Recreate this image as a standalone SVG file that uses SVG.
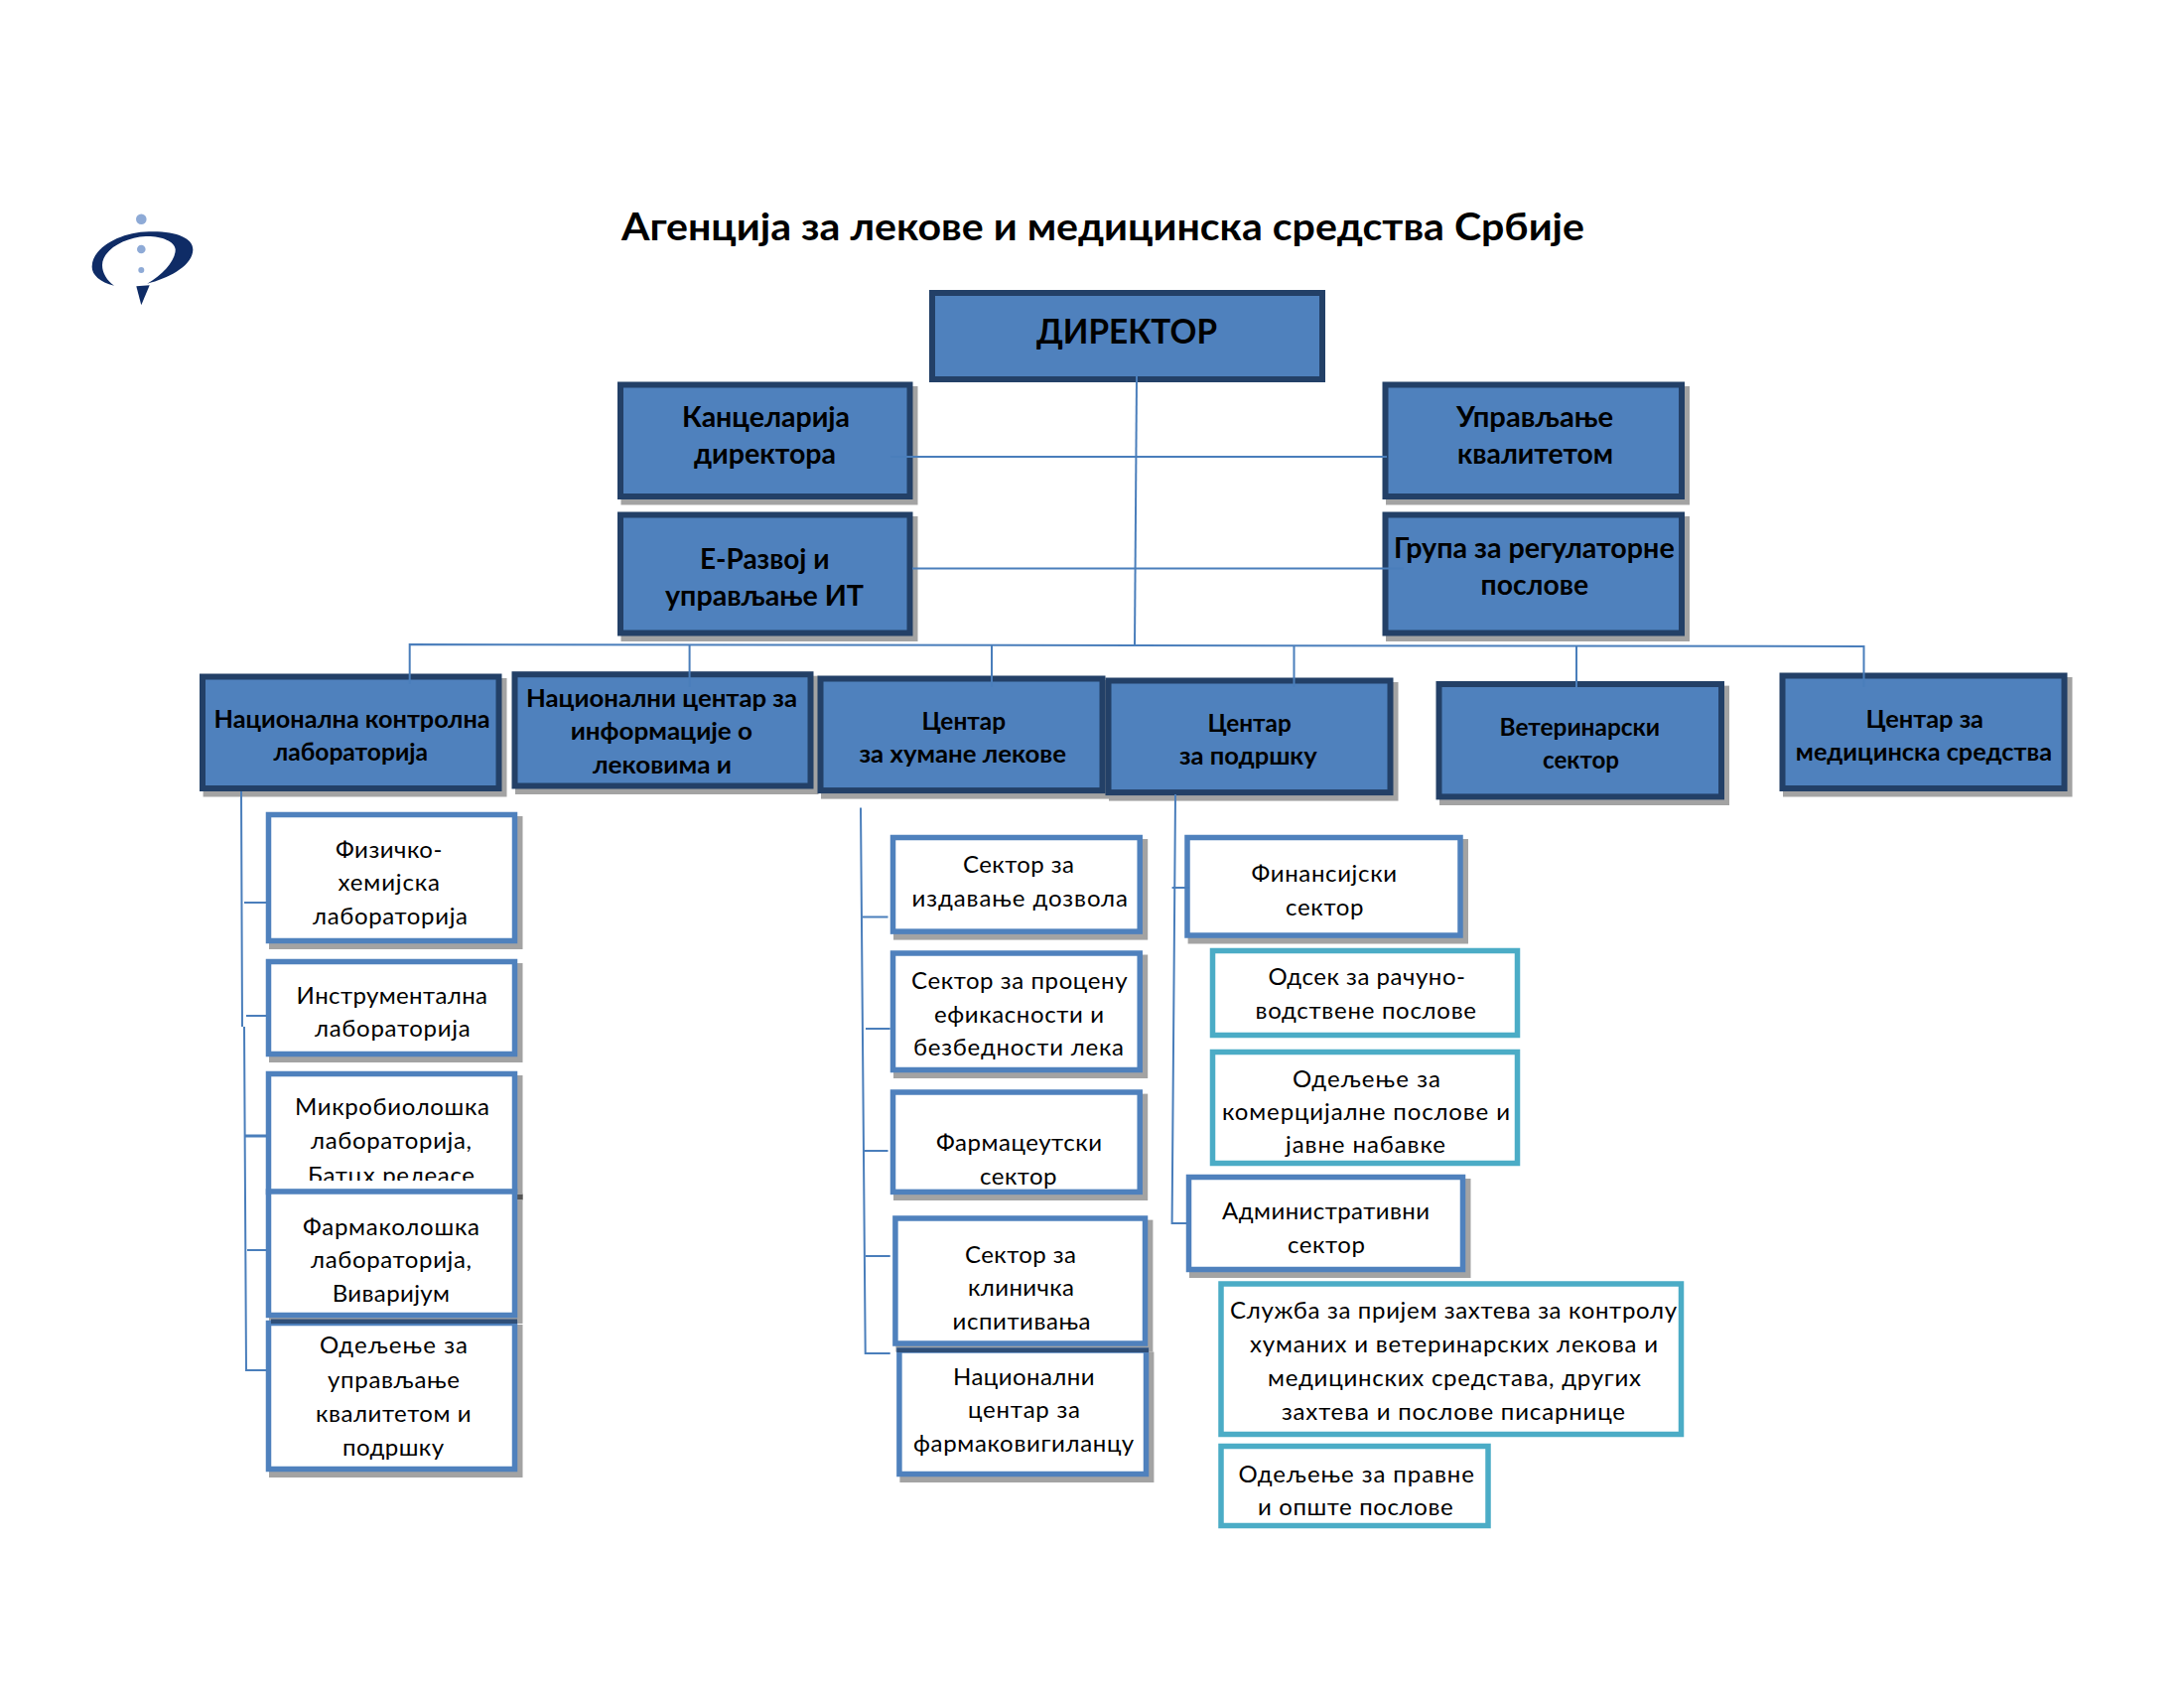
<svg xmlns="http://www.w3.org/2000/svg" width="2200" height="1700" viewBox="0 0 2200 1700">
<style>
text{font-family:"Lato","Noto Sans","Liberation Sans",sans-serif;fill:#000}
.title{font-size:38px;font-weight:700}
.dir{font-size:35px;font-weight:700}
.h2{font-size:29px;font-weight:700}
.h3{font-size:25px;font-weight:700}
.s{font-size:24px;transform:translateY(.7px)}
.sh{fill:#a3a3a3;transform:translateX(-1px)}
.dark{fill:#4f81bd;stroke:#234067;stroke-width:6}
.sub{fill:#fff;stroke:#4f81bd;stroke-width:5.5}
.teal{fill:#fff;stroke:#4bacc6;stroke-width:5.5}
#connectors path{fill:none;stroke:#4a7ebb;stroke-width:2}
</style>
<defs><clipPath id="mikroClip"><rect x="268" y="1090" width="250" height="99"/></clipPath></defs>
<rect width="2200" height="1700" fill="#fff"/>
<g id="logo">
<circle cx="142.3" cy="220.7" r="5.3" fill="#8eaad6"/><circle cx="142.3" cy="251" r="4.3" fill="#8eaad6"/><circle cx="142.3" cy="272" r="3" fill="#8eaad6"/>
<path fill="#0f2c66" d="M115 287.7C100 284 92 276 92.7 268C93 250 120 234 150 233.3C178 232.5 195 240 194.3 252C193.5 268 170 280 148.3 285.7C165 276 177 262 176.7 251C176 243 162 237.5 147 238C125 239 103 252 103 267C103 275 108 283 115 287.7Z"/>
<path fill="#0f2c66" d="M137.3 288.3L150.7 287.3L142.3 307.3Z"/>
</g>
<text id="title" class="title" x="626" y="242" textLength="970" lengthAdjust="spacingAndGlyphs">Агенција за лекове и медицинска средства Србије</text>

<g id="director"><rect class="dark" x="939" y="295" width="393" height="87"/><text class="dir" x="1044" y="346" textLength="182" lengthAdjust="spacingAndGlyphs">ДИРЕКТОР</text></g>
<g id="kancelarija"><rect class="sh" x="626.5" y="389" width="299" height="119.5"/><rect class="dark" x="625" y="387.5" width="291.5" height="112.5"/><text class="h2" x="687" y="430" textLength="169" lengthAdjust="spacingAndGlyphs">Канцеларија</text><text class="h2" x="699" y="467" textLength="143" lengthAdjust="spacingAndGlyphs">директора</text></g>
<g id="erazvoj"><rect class="sh" x="626.5" y="520" width="299" height="126"/><rect class="dark" x="625" y="518.5" width="291.5" height="119"/><text class="h2" x="705" y="572.6" textLength="130.5" lengthAdjust="spacingAndGlyphs">Е-Развој и</text><text class="h2" x="670" y="609.6" textLength="200" lengthAdjust="spacingAndGlyphs">управљање ИТ</text></g>
<g id="upravljanje"><rect class="sh" x="1397" y="389" width="306" height="119.5"/><rect class="dark" x="1395.5" y="387.5" width="298.5" height="112.5"/><text class="h2" x="1467" y="430" textLength="158" lengthAdjust="spacingAndGlyphs">Управљање</text><text class="h2" x="1468" y="467" textLength="157" lengthAdjust="spacingAndGlyphs">квалитетом</text></g>
<g id="grupa"><rect class="sh" x="1397" y="520" width="306" height="126"/><rect class="dark" x="1395.5" y="518.5" width="298.5" height="119"/><text class="h2" x="1404" y="561.8" textLength="282.7" lengthAdjust="spacingAndGlyphs">Група за регулаторне</text><text class="h2" x="1491.6" y="599" textLength="108.4" lengthAdjust="spacingAndGlyphs">послове</text></g>

<g id="nkl"><rect class="sh" x="205.6" y="683" width="305.9" height="119.5"/><rect class="dark" x="204" y="681.5" width="298.5" height="112.5"/><text class="h3" x="215.6" y="733" textLength="278" lengthAdjust="spacingAndGlyphs">Национална контролна</text><text class="h3" x="275.6" y="766" textLength="155.4" lengthAdjust="spacingAndGlyphs">лабораторија</text></g>
<g id="nci"><rect class="sh" x="520" y="680.7" width="305.5" height="119.3"/><rect class="dark" x="518.5" y="679.2" width="298" height="112.3"/><text class="h3" x="530" y="712" textLength="273" lengthAdjust="spacingAndGlyphs">Национални центар за</text><text class="h3" x="574.7" y="745" textLength="183.3" lengthAdjust="spacingAndGlyphs">информације о</text><text class="h3" x="597" y="778.7" textLength="140" lengthAdjust="spacingAndGlyphs">лековима и</text></g>
<g id="chl"><rect class="sh" x="828" y="685" width="291.5" height="119.6"/><rect class="dark" x="826.5" y="683.5" width="284" height="112.6"/><text class="h3" x="928.6" y="734.7" textLength="84.4" lengthAdjust="spacingAndGlyphs">Центар</text><text class="h3" x="865.5" y="768" textLength="208.5" lengthAdjust="spacingAndGlyphs">за хумане лекове</text></g>
<g id="cp"><rect class="sh" x="1118" y="687" width="291.5" height="119.6"/><rect class="dark" x="1116.5" y="685.5" width="284" height="112.6"/><text class="h3" x="1216.5" y="737" textLength="84.2" lengthAdjust="spacingAndGlyphs">Центар</text><text class="h3" x="1188" y="770" textLength="138.7" lengthAdjust="spacingAndGlyphs">за подршку</text></g>
<g id="vet"><rect class="sh" x="1451" y="690.6" width="292" height="120.4"/><rect class="dark" x="1449.5" y="689" width="284.5" height="113.4"/><text class="h3" x="1510.5" y="741" textLength="161.5" lengthAdjust="spacingAndGlyphs">Ветеринарски</text><text class="h3" x="1554" y="774" textLength="77" lengthAdjust="spacingAndGlyphs">сектор</text></g>
<g id="cms"><rect class="sh" x="1797" y="682" width="291.5" height="120.5"/><rect class="dark" x="1795.5" y="680.5" width="284" height="113.5"/><text class="h3" x="1879.6" y="732.7" textLength="118.4" lengthAdjust="spacingAndGlyphs">Центар за</text><text class="h3" x="1808.8" y="766" textLength="258.2" lengthAdjust="spacingAndGlyphs">медицинска средства</text></g>

<g id="fhl"><rect class="sh" x="272" y="822" width="255.5" height="134"/><rect class="sub" x="270.5" y="820.5" width="248" height="127"/><text class="s" x="338" y="863" textLength="107.4">Физичко-</text><text class="s" x="340.5" y="896.4" textLength="102.5">хемијска</text><text class="s" x="315" y="930" textLength="156">лабораторија</text></g>
<g id="instr"><rect class="sh" x="272" y="970" width="255.5" height="100"/><rect class="sub" x="270.5" y="968.5" width="248" height="93"/><text class="s" x="298.6" y="1010" textLength="192.4">Инструментална</text><text class="s" x="317" y="1043" textLength="156.6">лабораторија</text></g>
<g id="mikro"><rect class="sh" x="272" y="1083" width="255.5" height="126"/><rect class="sub" x="270.5" y="1081.5" width="248" height="119"/><text class="s" x="297" y="1122" textLength="196">Микробиолошка</text><text class="s" x="313" y="1156" textLength="162">лабораторија,</text><g clip-path="url(#mikroClip)"><text class="s" x="310" y="1191" textLength="168">Батцх релеасе</text></g></g>
<g id="farmak"><rect class="sh" x="272" y="1201.6" width="255.5" height="131.4"/><rect x="521" y="1203" width="5.5" height="5" fill="#555"/><rect class="sub" x="270.5" y="1200" width="248" height="124.5"/><text class="s" x="305" y="1243" textLength="178">Фармаколошка</text><text class="s" x="313" y="1276.6" textLength="162">лабораторија,</text><text class="s" x="334.7" y="1310" textLength="118.3">Виваријум</text></g>
<g id="odelj"><rect class="sh" x="272" y="1334" width="255.5" height="154"/><rect class="sub" x="270.5" y="1332.5" width="248" height="147"/><rect x="273" y="1328.5" width="248" height="4.5" fill="#2f4f78"/><text class="s" x="322" y="1362.4" textLength="149">Одељење за</text><text class="s" x="330" y="1397" textLength="133">управљање</text><text class="s" x="318" y="1431" textLength="156.5">квалитетом и</text><text class="s" x="345" y="1465" textLength="102">подршку</text></g>

<g id="sek-izd"><rect class="sh" x="901" y="845" width="256.2" height="101.6"/><rect class="sub" x="899.5" y="843.5" width="248.7" height="94.6"/><text class="s" x="970" y="878.5" textLength="112">Сектор за</text><text class="s" x="918.6" y="912" textLength="217.4">издавање дозвола</text></g>
<g id="sek-proc"><rect class="sh" x="901" y="961.5" width="256.2" height="124.5"/><rect class="sub" x="899.5" y="960" width="248.7" height="117.5"/><text class="s" x="918" y="995" textLength="217.5">Сектор за процену</text><text class="s" x="941" y="1029" textLength="171">ефикасности и</text><text class="s" x="920" y="1062" textLength="212">безбедности лека</text></g>
<g id="farm"><rect class="sh" x="901" y="1101.6" width="256.2" height="107.4"/><rect class="sub" x="899.5" y="1100" width="248.7" height="100.4"/><text class="s" x="943" y="1158" textLength="167">Фармацеутски</text><text class="s" x="987" y="1192" textLength="77.5">сектор</text></g>
<g id="klin"><rect class="sh" x="903.4" y="1228.6" width="259" height="133"/><rect class="sub" x="901.9" y="1227" width="251.6" height="126"/><text class="s" x="972" y="1271" textLength="112">Сектор за</text><text class="s" x="975" y="1304" textLength="107">клиничка</text><text class="s" x="959.6" y="1338" textLength="138.9">испитивања</text></g>
<g id="ncf"><rect class="sh" x="907.4" y="1361.5" width="256" height="131.5"/><rect class="sub" x="905.9" y="1360" width="248.6" height="124.5"/><rect x="903.4" y="1357.5" width="253.6" height="4.5" fill="#2f4f78"/><text class="s" x="960" y="1394" textLength="142.5">Национални</text><text class="s" x="975" y="1427.5" textLength="113">центар за</text><text class="s" x="920" y="1461.5" textLength="222">фармаковигиланцу</text></g>

<g id="finans"><rect class="sh" x="1197.6" y="845" width="282.4" height="105.5"/><rect class="sub" x="1196" y="843.5" width="275" height="98.5"/><text class="s" x="1260.5" y="887" textLength="146.5">Финансијски</text><text class="s" x="1295" y="921" textLength="78.5">сектор</text></g>
<g id="odsek"><rect class="teal" x="1221.5" y="957.5" width="307" height="85"/><text class="s" x="1277.5" y="991" textLength="198.5">Одсек за рачуно-</text><text class="s" x="1264.5" y="1025" textLength="222.5">водствене послове</text></g>
<g id="kom"><rect class="teal" x="1221.5" y="1059.5" width="307" height="112"/><text class="s" x="1302" y="1094" textLength="149">Одељење за</text><text class="s" x="1231" y="1127" textLength="290">комерцијалне послове и</text><text class="s" x="1295" y="1160" textLength="161">јавне набавке</text></g>
<g id="admin"><rect class="sh" x="1199" y="1187" width="283.5" height="100"/><rect class="sub" x="1197.5" y="1185.5" width="276" height="93"/><text class="s" x="1231" y="1227.5" textLength="209">Административни</text><text class="s" x="1297" y="1261" textLength="78">сектор</text></g>
<g id="sluzba"><rect class="teal" x="1230" y="1293" width="463.5" height="151.5"/><text class="s" x="1239" y="1327" textLength="450">Служба за пријем захтева за контролу</text><text class="s" x="1259" y="1361" textLength="411">хуманих и ветеринарских лекова и</text><text class="s" x="1277" y="1395" textLength="376">медицинских средстава, других</text><text class="s" x="1291" y="1429" textLength="346">захтева и послове писарнице</text></g>
<g id="pravne"><rect class="teal" x="1230" y="1456.5" width="269" height="80"/><text class="s" x="1247.6" y="1492" textLength="237.4">Одељење за правне</text><text class="s" x="1267" y="1525.6" textLength="196.6">и опште послове</text></g>

<g id="connectors">
<path d="M1145 379L1143 650"/>
<path d="M897 460H1397"/>
<path d="M919 572.5H1414"/>
<path d="M412.7 689V649L1877.5 651V692"/>
<path d="M694.6 650V692M999 650V692M1303.5 650.5V692M1588 651V692"/>
<path d="M243 797L244 1034M246 1034L248 1380H269"/>
<path d="M246 909H269M248 1023H269M249 1259H269"/>
<path d="M246 1144H269" style="stroke-width:3"/>
<path d="M867 813.6L871.7 1363H896.7"/>
<path d="M869 923.6H894.5M872 1036H896.7M870 1159H894.5M872 1265H896.7"/>
<path d="M1184 800L1180.6 1232H1196"/>
<path d="M1180.6 894H1198"/>
</g>
</svg>
